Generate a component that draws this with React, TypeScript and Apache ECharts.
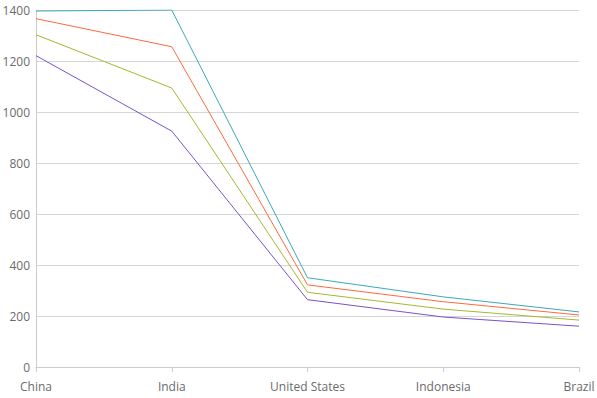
import React, { useEffect, useRef } from "react";
import * as echarts from "echarts";

const categories = ["China", "India", "United States", "Indonesia", "Brazil"];
const seriesTeal = [1396, 1400, 350, 275, 216];
const seriesOrange = [1366, 1256, 322, 256, 204];
const seriesGreen = [1303, 1094, 293, 227, 184];
const seriesPurple = [1221, 925, 264, 196, 160];
const colors = ["#3aa9b8", "#ff6a3d", "#a2b92f", "#7a52c9"];

export default function App() {
  const ref = useRef<HTMLDivElement>(null);
  useEffect(() => {
    document.body.style.margin = "0";
    const chart = echarts.init(ref.current!, null, { renderer: "svg" });
    const mk = (data: number[], color: string) => ({
      type: "line",
      data,
      symbol: "none",
      lineStyle: { width: 1, color },
      itemStyle: { color },
    });
    chart.setOption({
      animation: false,
      grid: { left: 36, right: 18, top: 10, bottom: 31, outerBoundsMode: "none" },
      xAxis: {
        type: "category",
        data: categories,
        boundaryGap: false,
        axisLine: { lineStyle: { color: "#cccccc" } },
        axisTick: { show: true, length: 5, lineStyle: { color: "#cccccc" } },
        axisLabel: {
          color: "#6b6b6b",
          fontFamily: "Open Sans",
          fontSize: 12,
          margin: 13,
          overflow: "none",
          showMinLabel: true,
          showMaxLabel: true,
        },
      },
      yAxis: {
        type: "value",
        min: 0,
        max: 1400,
        interval: 200,
        axisLine: { show: true, lineStyle: { color: "#cccccc" } },
        axisTick: { show: false },
        splitLine: { lineStyle: { color: "#d6d6d6" } },
        axisLabel: {
          color: "#6b6b6b",
          fontFamily: "Open Sans",
          fontSize: 12,
          margin: 6,
          formatter: (v: number) => String(v),
        },
      },
      series: [
        mk(seriesPurple, colors[3]),
        mk(seriesGreen, colors[2]),
        mk(seriesOrange, colors[1]),
        mk(seriesTeal, colors[0]),
      ],
    });
    return () => chart.dispose();
  }, []);
  return <div ref={ref} style={{ width: 597, height: 398 }} />;
}
